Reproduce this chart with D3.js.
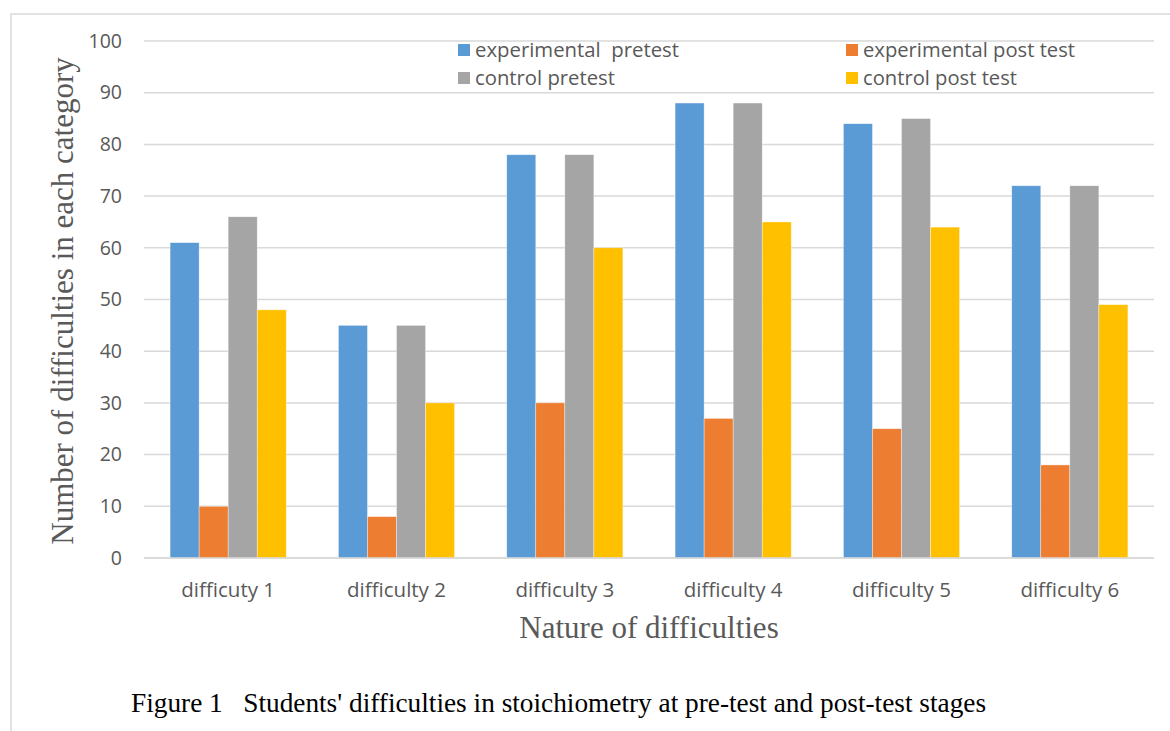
<!DOCTYPE html>
<html><head><meta charset="utf-8">
<script src="https://cdn.jsdelivr.net/npm/d3@7"></script>
<style>body{margin:0;background:#fff}svg{display:block}</style>
</head><body>
<script>
const categories = ["difficuty 1","difficulty 2","difficulty 3","difficulty 4","difficulty 5","difficulty 6"];
const seriesNames = ["experimental  pretest","experimental post test","control pretest","control post test"];
const expPre  = [61,45,78,88,84,72];
const expPost = [10,8,30,27,25,18];
const ctrlPre = [66,45,78,88,85,72];
const ctrlPost= [48,30,60,65,64,49];
const yTicks = [0,10,20,30,40,50,60,70,80,90,100];
const colors = ["#5B9BD5","#ED7D31","#A5A5A5","#FFC000"];
const series = [expPre, expPost, ctrlPre, ctrlPost];

const W=1170,H=731;
const svg=d3.select("body").append("svg").attr("width",W).attr("height",H);
svg.append("rect").attr("x",11).attr("y",14).attr("width",W).attr("height",H).attr("fill","none").attr("stroke","#d9d9d9").attr("stroke-width",1.5);

const L=144,R=1154,T=41,B=558;
const x=d3.scaleBand().domain(categories).range([L,R]).paddingInner(0.31).paddingOuter(0.155);
const xs=d3.scaleBand().domain(d3.range(4)).range([0,x.bandwidth()]);
const y=d3.scaleLinear().domain([0,100]).range([B,T]);

svg.append("g").selectAll("line").data(yTicks).join("line")
 .attr("x1",L).attr("x2",R).attr("y1",d=>y(d)).attr("y2",d=>y(d))
 .attr("stroke","#d9d9d9").attr("stroke-width",1.5);

const yAxis=d3.axisLeft(y).tickValues(yTicks).tickSize(0).tickPadding(0);
const ga=svg.append("g").attr("transform",`translate(122,0)`).call(yAxis);
ga.select(".domain").remove();
ga.selectAll("text").attr("font-family","Open Sans, sans-serif").attr("font-size",19.5).attr("fill","#595959");

const groups=svg.append("g").selectAll("g").data(categories).join("g")
 .attr("transform",d=>`translate(${x(d)},0)`);
groups.selectAll("rect").data((d,i)=>series.map((s,k)=>({k,v:s[i]}))).join("rect")
 .attr("x",d=>xs(d.k)).attr("width",xs.bandwidth())
 .attr("y",d=>y(d.v)).attr("height",d=>B-y(d.v))
 .attr("fill",d=>colors[d.k]).attr("stroke","#fff").attr("stroke-width",0.6).attr("stroke-opacity",0.6);

svg.append("line").attr("x1",L).attr("x2",R).attr("y1",B).attr("y2",B).attr("stroke","#d9d9d9").attr("stroke-width",1.5);

const xAxis=d3.axisBottom(x).tickSize(0).tickPadding(0);
const gx=svg.append("g").attr("transform",`translate(0,582)`).call(xAxis);
gx.select(".domain").remove();
gx.selectAll("text").attr("font-family","Open Sans, sans-serif").attr("font-size",20.5).attr("fill","#595959");

svg.append("text").attr("transform","translate(73,301) rotate(-90)").attr("text-anchor","middle")
 .attr("font-family","Liberation Serif, serif").attr("font-size",31).attr("fill","#595959")
 .text("Number of difficulties in each category");
svg.append("text").attr("x",649).attr("y",638).attr("text-anchor","middle")
 .attr("font-family","Liberation Serif, serif").attr("font-size",31).attr("fill","#595959")
 .text("Nature of difficulties");

const legPos=[[458,50],[846,50],[458,78],[846,78]];
const legLen=[204,212,140,154];
const lg=svg.append("g").selectAll("g").data(seriesNames).join("g")
 .attr("transform",(d,i)=>`translate(${legPos[i][0]},${legPos[i][1]})`);
lg.append("rect").attr("x",0).attr("y",-6).attr("width",12).attr("height",12).attr("fill",(d,i)=>colors[i]);
lg.append("text").attr("x",17).attr("y",0).attr("dy","0.35em").style("white-space","pre")
 .attr("textLength",(d,i)=>legLen[i]).attr("lengthAdjust","spacingAndGlyphs")
 .attr("font-family","Open Sans, sans-serif").attr("font-size",20).attr("fill","#595959").text(d=>d);

svg.append("text").attr("x",131).attr("y",712).style("white-space","pre")
 .attr("font-family","Liberation Serif, serif").attr("font-size",27.3).attr("fill","#000")
 .text("Figure 1   Students' difficulties in stoichiometry at pre-test and post-test stages");
</script>
</body></html>
